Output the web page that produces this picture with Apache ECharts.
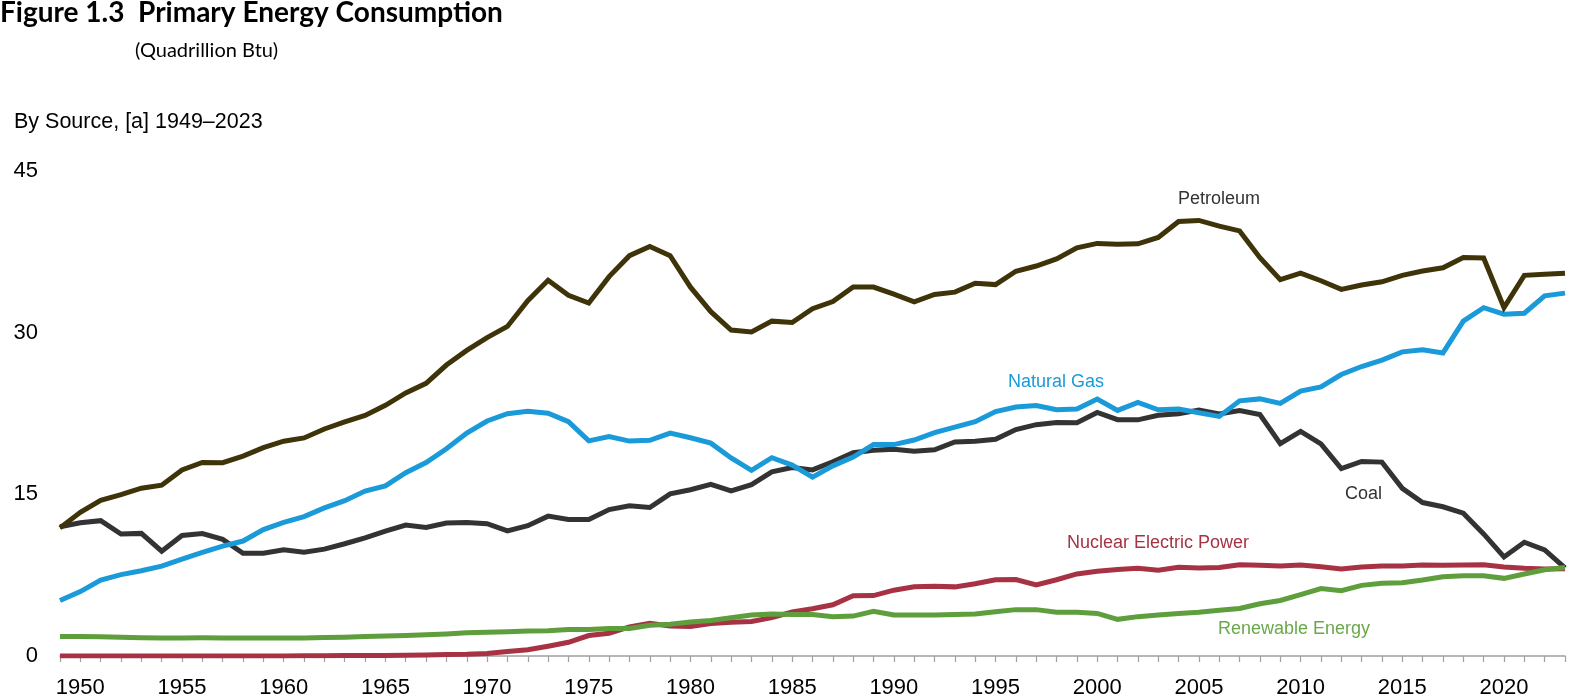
<!DOCTYPE html>
<html><head><meta charset="utf-8">
<script src="https://cdn.jsdelivr.net/npm/echarts@6/dist/echarts.min.js"></script>
<style>html,body{margin:0;padding:0;background:#fff}#c{width:1569px;height:699px}</style>
</head><body><div id="c"></div>
<script>
const startYear = 1949;
const petroleum = [11.88,13.32,14.43,14.96,15.56,15.84,17.25,17.94,17.93,18.53,19.32,19.92,20.22,21.05,21.70,22.30,23.25,24.40,25.28,26.98,28.34,29.52,30.56,32.95,34.84,33.45,32.73,35.18,37.12,37.97,37.12,34.20,31.93,30.23,30.05,31.05,30.92,32.20,32.87,34.22,34.21,33.55,32.85,33.53,33.74,34.56,34.44,35.68,36.16,36.82,37.84,38.26,38.19,38.22,38.81,40.29,40.39,39.86,39.42,36.93,34.9,35.5,34.8,34.0,34.4,34.7,35.3,35.7,36.0,36.95,36.9,32.3,35.3,35.4,35.5];
const naturalGas = [5.15,5.97,7.05,7.55,7.91,8.33,8.99,9.61,10.19,10.66,11.72,12.39,12.93,13.73,14.40,15.29,15.77,16.99,17.94,19.21,20.68,21.79,22.47,22.70,22.51,21.73,19.95,20.35,19.93,20.00,20.67,20.24,19.74,18.36,17.21,18.39,17.70,16.59,17.63,18.44,19.60,19.60,20.03,20.71,21.23,21.73,22.67,23.09,23.22,22.83,22.91,23.82,22.77,23.51,22.83,22.91,22.56,22.22,23.66,23.84,23.42,24.57,24.95,26.10,26.84,27.43,28.20,28.40,28.10,31.05,32.30,31.70,31.78,33.40,33.65];
const coal = [11.98,12.35,12.55,11.31,11.37,9.72,11.17,11.35,10.82,9.53,9.52,9.84,9.62,9.91,10.41,10.96,11.58,12.14,11.91,12.33,12.38,12.27,11.60,12.08,12.97,12.66,12.66,13.58,13.92,13.77,15.04,15.42,15.91,15.32,15.89,17.07,17.48,17.26,18.01,18.85,19.07,19.17,18.99,19.12,19.84,19.91,20.09,21.00,21.45,21.66,21.62,22.58,21.91,21.90,22.32,22.47,22.80,22.45,22.75,22.39,19.69,20.83,19.66,17.38,18.04,17.98,15.55,14.23,13.84,13.24,11.32,9.18,10.55,9.84,8.17];
const nuclear = [0,0,0,0,0,0,0,0,0.0001,0.002,0.002,0.006,0.02,0.026,0.038,0.04,0.043,0.064,0.088,0.142,0.154,0.239,0.413,0.584,0.910,1.272,1.900,2.111,2.702,3.024,2.776,2.739,3.008,3.131,3.203,3.553,4.076,4.380,4.754,5.587,5.602,6.104,6.422,6.479,6.410,6.694,7.075,7.087,6.597,7.068,7.610,7.862,8.029,8.145,7.959,8.222,8.161,8.215,8.459,8.426,8.355,8.434,8.269,8.062,8.244,8.338,8.337,8.427,8.419,8.438,8.452,8.251,8.131,8.061,8.10];
const renewable = [1.80,1.80,1.78,1.75,1.70,1.68,1.68,1.70,1.68,1.66,1.68,1.68,1.68,1.72,1.74,1.80,1.85,1.90,1.98,2.05,2.15,2.20,2.25,2.32,2.35,2.45,2.45,2.55,2.55,2.85,2.95,3.15,3.30,3.55,3.80,3.90,3.85,3.85,3.65,3.70,4.15,3.80,3.80,3.80,3.85,3.90,4.10,4.30,4.30,4.05,4.05,3.95,3.40,3.65,3.80,3.95,4.05,4.25,4.40,4.85,5.15,5.70,6.25,6.05,6.55,6.75,6.80,7.05,7.35,7.45,7.45,7.20,7.60,8.00,8.20];
const yTicks = [0, 15, 30, 45];

const pairs = arr => arr.map((v, i) => [startYear + i, v]);
const endYear = startYear + petroleum.length - 1;

const chart = echarts.init(document.getElementById('c'), null, {renderer: 'canvas'});
const lineSeries = (name, data, color, z) => ({
  name, type: 'line', data: pairs(data), symbol: 'none', z,
  lineStyle: {color, width: 5, join: 'miter'}, emphasis: {disabled: true}
});
const txt = (s, x, y, color, font) => ({
  type: 'text', x, y,
  style: {text: s, fill: color, font, textVerticalAlign: 'middle', textAlign: 'left'}
});
chart.setOption({
  animation: false,
  backgroundColor: '#fff',
  grid: {left: 60, right: 4, top: 170.7, bottom: 41, containLabel: false},
  xAxis: {
    type: 'value', min: startYear, max: endYear, interval: 1,
    axisLine: {show: true, lineStyle: {color: '#a0a0a0', width: 1.5}},
    axisTick: {show: true, length: 6, lineStyle: {color: '#a0a0a0', width: 1.2}},
    splitLine: {show: false},
    axisLabel: {
      margin: 21, fontSize: 22, color: '#000', fontFamily: 'Liberation Sans',
      formatter: v => (v % 5 === 0 ? String(v) : '')
    }
  },
  yAxis: {
    type: 'value', min: yTicks[0], max: yTicks[yTicks.length - 1], interval: 15,
    axisLine: {show: false}, axisTick: {show: false}, splitLine: {show: false},
    axisLabel: {margin: 22, fontSize: 22, color: '#000', fontFamily: 'Liberation Sans'}
  },
  series: [
    lineSeries('Nuclear Electric Power', nuclear, '#a63244', 2),
    lineSeries('Coal', coal, '#333333', 3),
    lineSeries('Natural Gas', naturalGas, '#1a9ad9', 4),
    lineSeries('Renewable Energy', renewable, '#5e9e3c', 5),
    lineSeries('Petroleum', petroleum, '#3f3309', 6)
  ],
  graphic: [
    txt('Figure 1.3  Primary Energy Consumption', 0, 13, '#000', 'bold 28px Lato'),
    txt('(Quadrillion Btu)', 135, 51, '#000', '20px Lato'),
    txt('By Source, [a] 1949\u20132023', 14, 122, '#000', '21.5px "Liberation Sans"'),
    txt('Petroleum', 1178, 199, '#333', '18px "Liberation Sans"'),
    txt('Natural Gas', 1008, 382, '#1a9ad9', '18px "Liberation Sans"'),
    txt('Coal', 1345, 494, '#333', '18px "Liberation Sans"'),
    txt('Nuclear Electric Power', 1067, 543, '#a63244', '18px "Liberation Sans"'),
    txt('Renewable Energy', 1218, 629, '#6aa84a', '18px "Liberation Sans"')
  ]
});
</script></body></html>
